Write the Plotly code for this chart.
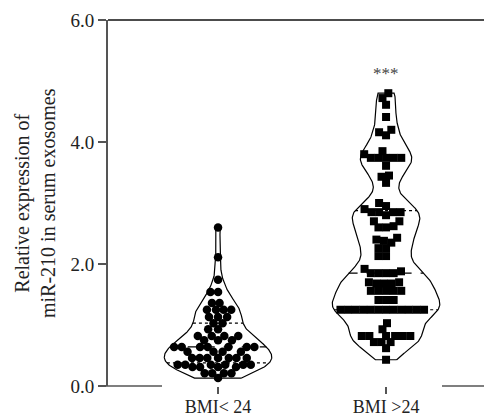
import numpy as np
import plotly.graph_objects as go

categories = ["BMI< 24", "BMI >24"]
tick_vals_y = [0, 2, 4, 6]

bmi_low = [2.60, 2.11, 1.74, 1.54, 1.54, 1.36, 1.36, 1.25, 1.25, 1.25, 1.25,
           1.13, 1.13, 1.13, 1.03, 1.03, 0.93, 0.93, 0.82, 0.82, 0.82, 0.82,
           0.75, 0.75, 0.75, 0.64, 0.64, 0.64, 0.64, 0.64, 0.64, 0.64,
           0.56, 0.56, 0.56, 0.56, 0.46, 0.46, 0.46, 0.46, 0.46, 0.46, 0.46,
           0.35, 0.35, 0.35, 0.35, 0.35, 0.35, 0.31, 0.31, 0.31, 0.31,
           0.21, 0.21, 0.21, 0.21, 0.13]

bmi_high = [4.80, 4.72, 4.61, 4.41, 4.20, 4.16, 4.11,
            3.85, 3.80, 3.74, 3.74, 3.74, 3.74, 3.74, 3.61,
            3.45, 3.43, 3.33,
            3.00, 2.95, 2.90, 2.85, 2.85, 2.85, 2.85, 2.80,
            2.70, 2.70, 2.62, 2.60, 2.60,
            2.43, 2.40, 2.38, 2.35, 2.26, 2.26, 2.13, 2.13,
            1.92, 1.88, 1.85, 1.85, 1.85, 1.85,
            1.70, 1.70, 1.68, 1.68, 1.68,
            1.56, 1.56, 1.56, 1.56, 1.56,
            1.41, 1.41, 1.41,
            1.25, 1.25, 1.25, 1.25, 1.25, 1.25, 1.25, 1.25, 1.25, 1.25, 1.25, 1.25,
            1.03, 0.93, 0.82, 0.82, 0.82, 0.82, 0.82, 0.82,
            0.72, 0.72, 0.72, 0.62, 0.43]

significance = "***"

FONT = "Liberation Serif"
XR = [-0.655, 1.583]
YR = [0, 6]
W, H = 484, 417
ML, MR, MT, MB = 108, 0, 20, 31
px_x = (W - ML - MR) / (XR[1] - XR[0])
px_y = (H - MT - MB) / (YR[1] - YR[0])


def kde(vals, grid, bw):
    v = np.asarray(vals)[:, None]
    return np.exp(-0.5 * ((grid[None, :] - v) / bw) ** 2).sum(axis=0)


def beeswarm(vals, d):
    vals = np.asarray(vals, dtype=float)
    order = np.argsort(vals)
    placed = []
    xs = np.zeros(len(vals))
    for i in order:
        y = vals[i] * px_y
        conflicts = []
        for (xp, yp) in placed:
            dy = abs(y - yp)
            if dy < d:
                conflicts.append((xp, np.sqrt(d * d - dy * dy)))
        cands = [0.0]
        for xp, r in conflicts:
            cands += [xp + r + 1e-6, xp - r - 1e-6]
        cands.sort(key=lambda c: (abs(c), c))
        chosen = 0.0
        for c in cands:
            if all(abs(c - xp) >= r for xp, r in conflicts):
                chosen = c
                break
        placed.append((chosen, y))
        xs[i] = chosen / px_x
    return xs


fig = go.Figure()
groups = [(bmi_low, 0, "circle", 0.17), (bmi_high, 1, "square", 0.2)]
HALF = 0.32
for vals, c, sym, bw in groups:
    grid = np.linspace(min(vals), max(vals), 300)
    dens = kde(vals, grid, bw)
    w = dens / dens.max() * HALF
    xo = np.concatenate([c + w, (c - w)[::-1], [c + w[0]]])
    yo = np.concatenate([grid, grid[::-1], [grid[0]]])
    fig.add_trace(go.Scatter(x=xo, y=yo, mode="lines", fill="toself",
                             fillcolor="white", line=dict(color="black", width=1.2),
                             hoverinfo="skip", showlegend=False))
    for q, dash in [(25, "dot"), (50, "dash"), (75, "dot")]:
        yq = np.percentile(vals, q)
        wq = np.interp(yq, grid, w)
        fig.add_trace(go.Scatter(x=[c - wq, c + wq], y=[yq, yq], mode="lines",
                                 line=dict(color="black", width=1.2, dash=dash),
                                 hoverinfo="skip", showlegend=False))
    offs = beeswarm(vals, 7.6)
    fig.add_trace(go.Scatter(x=c + offs, y=vals, mode="markers",
                             marker=dict(symbol=sym, size=8.5 if sym == "circle" else 8,
                                         color="black", line=dict(width=0)),
                             showlegend=False))

fig.add_annotation(x=1, y=5.13, text=significance, showarrow=False,
                   font=dict(family=FONT, size=17, color="#444"), yanchor="middle")
fig.add_annotation(xref="paper", yref="paper", x=(35 - ML) / (W - ML - MR), y=0.5,
                   text="Relative expression of<br>miR-210 in serum exosomes",
                   textangle=-90, showarrow=False, xanchor="center", yanchor="middle",
                   font=dict(family=FONT, size=20, color="#222"))

# frame lines
fig.add_shape(type="line", xref="paper", yref="paper", x0=0, x1=1, y0=1, y1=1,
              line=dict(color="#111", width=1.5))
fig.add_shape(type="line", xref="paper", yref="paper", x0=(100 - ML) / (W - ML), x1=(162 - ML) / (W - ML),
              y0=0, y1=0, line=dict(color="#555", width=1.5))
fig.add_shape(type="line", xref="paper", yref="paper", x0=(442 - ML) / (W - ML), x1=1,
              y0=0, y1=0, line=dict(color="#555", width=1.5))

fig.update_layout(
    width=W, height=H, margin=dict(l=ML, r=MR, t=MT, b=MB),
    paper_bgcolor="white", plot_bgcolor="white",
    font=dict(family=FONT, color="#222"),
    xaxis=dict(range=XR, showgrid=False, zeroline=False, showline=False,
               tickvals=[0, 1], ticktext=categories, ticks="outside", ticklen=7,
               tickwidth=1.5, tickcolor="#555", tickfont=dict(family=FONT, size=18, color="#222"),
               ticklabelstandoff=-3, automargin=False, fixedrange=True),
    yaxis=dict(range=YR, showgrid=False, zeroline=False, showline=True,
               linecolor="#555", linewidth=2, tickvals=tick_vals_y, tickformat=".1f",
               ticks="outside", ticklen=8, tickwidth=2, tickcolor="#555",
               tickfont=dict(family=FONT, size=19, color="#222"), automargin=False,
               fixedrange=True),
)

fig.write_html("out.html", config={"displayModeBar": False},
               post_script="document.body.style.margin='0';document.body.style.overflow='hidden';")
